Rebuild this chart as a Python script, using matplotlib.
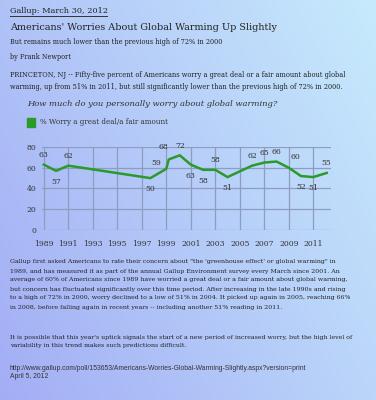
import numpy as np
import matplotlib
matplotlib.use("Agg")
import matplotlib.pyplot as plt

# survey results, % worry a great deal / fair amount
years = [1989, 1990, 1991, 1997.7, 1999.0, 1999.2, 2000.1, 2001, 2002, 2003, 2004,
         2006, 2007, 2008, 2009, 2010, 2011, 2012.1]
worry = [63, 57, 62, 50, 59, 68, 72, 63, 58, 58, 51, 62, 65, 66, 60, 52, 51, 55]
# where each value label sits relative to its point
label_pos = ['a', 'b', 'a', 'b', 'l', 'al', 'a', 'b', 'b', 'a', 'b',
             'a', 'a', 'a', 'ar', 'b', 'b', 'a']
tick_years = list(range(1989, 2012, 2))
y_ticks = [0, 20, 40, 60, 80]

W, H = 376, 400
fig = plt.figure(figsize=(W / 100, H / 100), dpi=100)

# page background gradient
bg = fig.add_axes([0, 0, 1, 1])
xx, yy = np.meshgrid(np.linspace(0, 1, 200), np.linspace(0, 1, 200))
t = np.clip(0.65 * xx + 0.35 * (1 - yy), 0, 1)[..., None]
c0 = np.array([0.64, 0.68, 0.96])
c1 = np.array([0.78, 0.92, 0.99])
bg.imshow(c0 * (1 - t) + c1 * t, aspect='auto', extent=[0, 1, 0, 1], origin='upper')
bg.axis('off')

serif = 'DejaVu Serif'
tc = '#222222'


def put(x, y, s, size, **kw):
    fig.text(x / W, 1 - y / H, s, fontsize=size, family=serif, color=kw.pop('color', tc),
             va='center', **kw)


put(10, 11, 'Gallup: March 30, 2012', 5.9)
fig.add_artist(plt.Line2D([10 / W, 107 / W], [1 - 16 / H] * 2, color='#333333', lw=0.7))
put(10, 27, "Americans' Worries About Global Warming Up Slightly", 6.9)
put(10, 42, 'But remains much lower than the previous high of 72% in 2000', 4.7)
put(10, 57, 'by Frank Newport', 4.7)
put(10, 75, 'PRINCETON, NJ -- Fifty-five percent of Americans worry a great deal or a fair amount about global', 4.8)
put(10, 87, 'warming, up from 51% in 2011, but still significantly lower than the previous high of 72% in 2000.', 4.8)
put(27, 104, 'How much do you personally worry about global warming?', 6.0, style='italic', color='#333333')
fig.add_artist(plt.Rectangle((27 / W, 1 - 127 / H), 8 / W, 9 / H, color='#2a9a2a'))
put(40, 122, '% Worry a great deal/a fair amount', 5.15, color='#333333')

body = [
    'Gallup first asked Americans to rate their concern about "the \'greenhouse effect\' or global warming" in',
    '1989, and has measured it as part of the annual Gallup Environment survey every March since 2001. An',
    'average of 60% of Americans since 1989 have worried a great deal or a fair amount about global warming,',
    'but concern has fluctuated significantly over this time period. After increasing in the late 1990s and rising',
    'to a high of 72% in 2000, worry declined to a low of 51% in 2004. It picked up again in 2005, reaching 66%',
    'in 2008, before falling again in recent years -- including another 51% reading in 2011.',
]
for i, line in enumerate(body):
    put(10, 262 + i * 9, line, 4.5)
put(10, 337, "It is possible that this year's uptick signals the start of a new period of increased worry, but the high level of", 4.5)
put(10, 346, 'variability in this trend makes such predictions difficult.', 4.5)
fig.text(10 / W, 1 - 368 / H, 'http://www.gallup.com/poll/153653/Americans-Worries-Global-Warming-Slightly.aspx?version=print',
         fontsize=4.9, family='Liberation Sans', color='#333333', va='center')
fig.text(10 / W, 1 - 376 / H, 'April 5, 2012', fontsize=4.9, family='Liberation Sans', color='#333333', va='center')

# chart
ax = fig.add_axes([42 / W, 1 - 230 / H, (331 - 42) / W, (230 - 147) / H])
ax.patch.set_alpha(0)
ax.set_xlim(1988.85, 2012.45)
ax.set_ylim(0, 80)
ax.set_xticks(tick_years)
ax.set_yticks(y_ticks)
ax.grid(True, color='#8e9cc0', lw=0.9)
for s in ax.spines.values():
    s.set_visible(False)
ax.tick_params(length=0, labelsize=5.5, labelcolor='#333333', pad=4)
for lab in ax.get_xticklabels() + ax.get_yticklabels():
    lab.set_family(serif)
ax.tick_params(axis='x', pad=7)
ax.plot(years, worry, color='#2a9a2a', lw=1.8, clip_on=False, zorder=3)

offs = {'a': (0, 7), 'b': (0, -8), 'l': (-7, 4), 'al': (-4, 9), 'ar': (5, 8)}
for x, v, p in zip(years, worry, label_pos):
    dx, dy = offs[p]
    ax.annotate(str(v), (x, v), xytext=(dx, dy), textcoords='offset points',
                ha='center', va='center', fontsize=5.6, family=serif, color='#333333')

fig.savefig('out.png', dpi=100)
